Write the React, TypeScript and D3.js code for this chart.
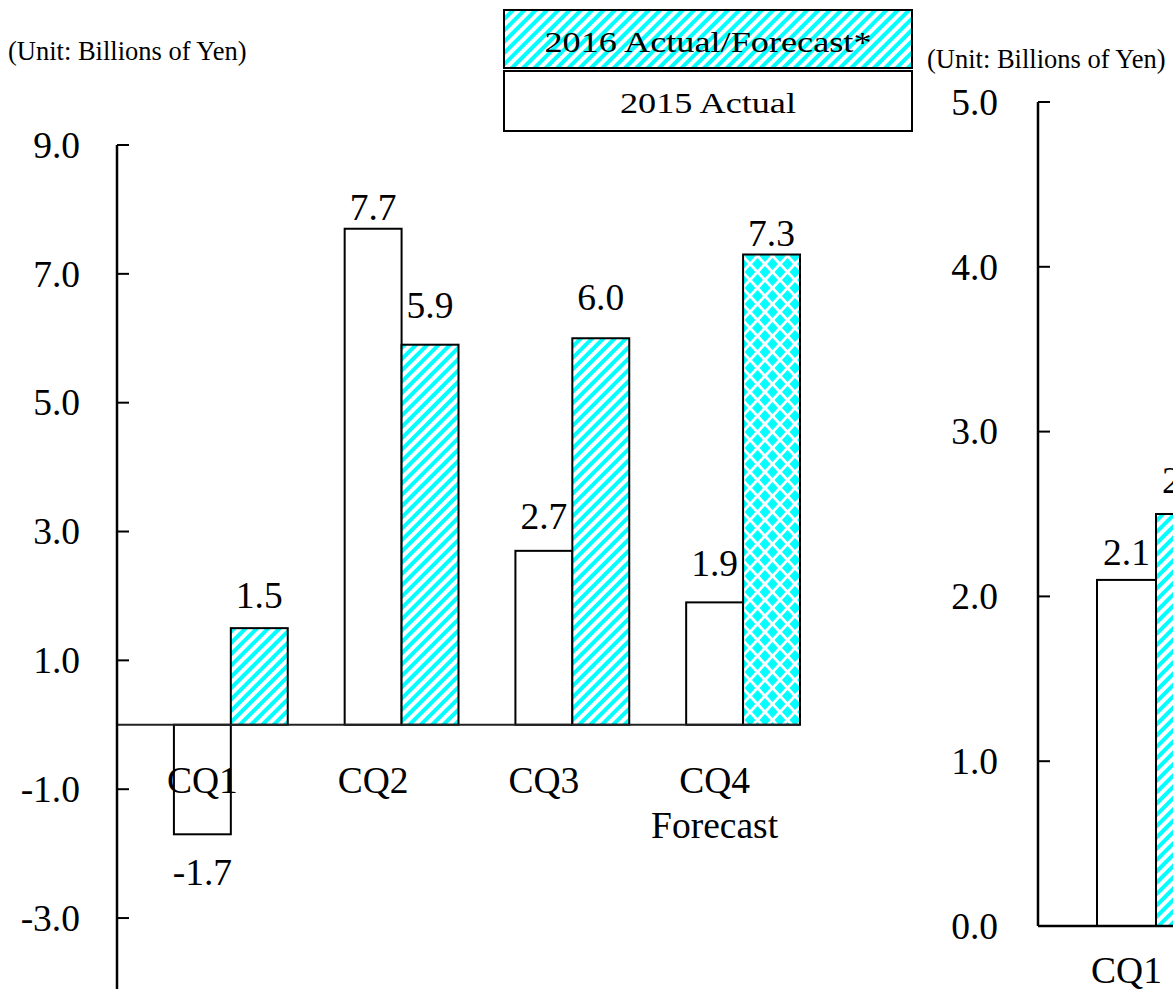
import React from "react";
import * as d3 from "d3";

// Quarterly results (billions of yen)
const quarters = ["CQ1", "CQ2", "CQ3", "CQ4"];
const actual2015 = [-1.7, 7.7, 2.7, 1.9];
const actual2016 = [1.5, 5.9, 6.0, 7.3];
const isForecast2016 = [false, false, false, true];
const leftTicks = [-3, -1, 1, 3, 5, 7, 9];

// Second panel (only the first quarter falls inside the frame)
const rightQuarters = ["CQ1"];
const rightActual2015 = [2.1];
const rightActual2016 = [2.5];
const rightTicks = [0, 1, 2, 3, 4, 5];

const legendItems = ["2016 Actual/Forecast*", "2015 Actual"];
const unitLabel = "(Unit: Billions of Yen)";

// Label placement: distance in px between a bar end and its value label
const gap2015 = [25, 9, 22, 26];
const gap2016 = [20, 27, 28, 9];
const rightGap2015 = [15];
const rightGap2016 = [21];

const W = 1173;
const H = 989;
const FONT = "'Liberation Serif', 'Times New Roman', serif";
const CYAN = "#00ffff";
const FS = 37.5;

export default function App() {
  // Left panel scales
  const yL = d3.scaleLinear().domain([-5, 9]).range([145 + 14 * 64.42, 145]);
  const xL = d3.scaleBand<string>().domain(quarters).range([117, 800]).padding(0);
  const bwL = xL.bandwidth() / 3;

  // Right panel scales
  const yR = d3.scaleLinear().domain([0, 5]).range([926, 102]);
  const xR = d3.scaleBand<string>().domain(quarters).range([1038, 1038 + 4 * 177]).padding(0);
  const bwR = xR.bandwidth() / 3;

  const capH = FS * 0.68;

  const valueLabel = (
    x: number,
    y: (v: number) => number,
    v: number,
    gap: number,
    key: string
  ) => {
    const yy = v >= 0 ? y(v) - gap : y(v) + gap + capH;
    return (
      <text key={key} x={x} y={yy} textAnchor="middle" fontSize={FS} fontFamily={FONT} fill="#000">
        {v.toFixed(1)}
      </text>
    );
  };

  return (
    <svg
      width={W}
      height={H}
      viewBox={`0 0 ${W} ${H}`}
      style={{ position: "absolute", left: 0, top: 0, background: "#fff" }}
    >
      <defs>
        <pattern id="stripes" patternUnits="userSpaceOnUse" width="8" height="8" patternTransform="rotate(45)">
          <rect width="8" height="8" fill="#fff" />
          <rect width="4" height="8" fill={CYAN} />
        </pattern>
        <pattern id="diamonds" patternUnits="userSpaceOnUse" width="15" height="16">
          <rect width="15" height="16" fill="#fff" />
          <path d="M7.5 2 L13 8 L7.5 14 L2 8Z" fill={CYAN} />
          <path d="M0 -6 L5.5 0 L0 6 L-5.5 0Z" fill={CYAN} />
          <path d="M15 -6 L20.5 0 L15 6 L9.5 0Z" fill={CYAN} />
          <path d="M0 10 L5.5 16 L0 22 L-5.5 16Z" fill={CYAN} />
          <path d="M15 10 L20.5 16 L15 22 L9.5 16Z" fill={CYAN} />
        </pattern>
      </defs>

      {/* Unit labels */}
      <text x={8} y={60} fontSize={26.5} fontFamily={FONT}>{unitLabel}</text>
      <text x={927} y={68} fontSize={26.5} fontFamily={FONT}>{unitLabel}</text>

      {/* Legend */}
      <g>
        <rect x={504} y={10} width={408} height={58} fill="url(#stripes)" stroke="#000" strokeWidth={2} />
        <text x={708} y={52} textAnchor="middle" fontSize={30} fontFamily={FONT}
          textLength={327} lengthAdjust="spacingAndGlyphs">{legendItems[0]}</text>
        <rect x={504} y={71} width={408} height={60} fill="#fff" stroke="#000" strokeWidth={2} />
        <text x={708} y={113} textAnchor="middle" fontSize={30} fontFamily={FONT}
          textLength={176} lengthAdjust="spacingAndGlyphs">{legendItems[1]}</text>
      </g>

      {/* ---------- Left panel ---------- */}
      <g>
        {quarters.map((q, i) => {
          const x0 = xL(q)!;
          const a = actual2015[i];
          const b = actual2016[i];
          return (
            <g key={q}>
              <rect x={x0 + bwL} y={Math.min(yL(a), yL(0))} width={bwL}
                height={Math.abs(yL(a) - yL(0))} fill="#fff" stroke="#000" strokeWidth={2} />
              <rect x={x0 + 2 * bwL} y={Math.min(yL(b), yL(0))} width={bwL}
                height={Math.abs(yL(b) - yL(0))}
                fill={isForecast2016[i] ? "url(#diamonds)" : "url(#stripes)"}
                stroke="#000" strokeWidth={2} />
            </g>
          );
        })}
        <line x1={117} x2={800} y1={yL(0)} y2={yL(0)} stroke="#222" strokeWidth={2} />
        <line x1={117} x2={117} y1={yL(9)} y2={yL(-5)} stroke="#000" strokeWidth={2.5} />
        {leftTicks.map((t) => (
          <g key={t}>
            <line x1={117} x2={129} y1={yL(t)} y2={yL(t)} stroke="#000" strokeWidth={2} />
            <text x={80} y={yL(t)} dy="0.34em" textAnchor="end" fontSize={FS} fontFamily={FONT}>
              {t.toFixed(1)}
            </text>
          </g>
        ))}
        {quarters.map((q, i) => {
          const x0 = xL(q)!;
          return (
            <g key={"v" + q}>
              {valueLabel(x0 + 1.5 * bwL, yL, actual2015[i], gap2015[i], "a")}
              {valueLabel(x0 + 2.5 * bwL, yL, actual2016[i], gap2016[i], "b")}
            </g>
          );
        })}
        {quarters.map((q) => (
          <text key={"c" + q} x={xL(q)! + 1.5 * bwL} y={yL(0) + 68} textAnchor="middle"
            fontSize={FS} fontFamily={FONT}>{q}</text>
        ))}
        {quarters.map((q, i) =>
          isForecast2016[i] ? (
            <text key={"f" + q} x={xL(q)! + 1.5 * bwL} y={yL(0) + 113} textAnchor="middle"
              fontSize={FS} fontFamily={FONT}>Forecast</text>
          ) : null
        )}
      </g>

      {/* ---------- Right panel ---------- */}
      <g>
        {rightQuarters.map((q, i) => {
          const x0 = xR(q)!;
          const a = rightActual2015[i];
          const b = rightActual2016[i];
          return (
            <g key={q}>
              <rect x={x0 + bwR} y={yR(a)} width={bwR} height={yR(0) - yR(a)}
                fill="#fff" stroke="#000" strokeWidth={2} />
              <rect x={x0 + 2 * bwR} y={yR(b)} width={bwR} height={yR(0) - yR(b)}
                fill="url(#stripes)" stroke="#000" strokeWidth={2} />
              {valueLabel(x0 + 1.5 * bwR, yR, a, rightGap2015[i], "ra")}
              {valueLabel(x0 + 2.5 * bwR, yR, b, rightGap2016[i], "rb")}
              <text x={x0 + 1.5 * bwR} y={yR(0) + 57} textAnchor="middle" fontSize={FS}
                fontFamily={FONT}>{q}</text>
            </g>
          );
        })}
        <line x1={1038} x2={W + 10} y1={yR(0)} y2={yR(0)} stroke="#000" strokeWidth={2.5} />
        <line x1={1038} x2={1038} y1={yR(5)} y2={yR(0)} stroke="#000" strokeWidth={2.5} />
        {rightTicks.map((t) => (
          <g key={t}>
            <line x1={1038} x2={1050} y1={yR(t)} y2={yR(t)} stroke="#000" strokeWidth={2} />
            <text x={998} y={yR(t)} dy="0.34em" textAnchor="end" fontSize={FS} fontFamily={FONT}>
              {t.toFixed(1)}
            </text>
          </g>
        ))}
      </g>
    </svg>
  );
}
